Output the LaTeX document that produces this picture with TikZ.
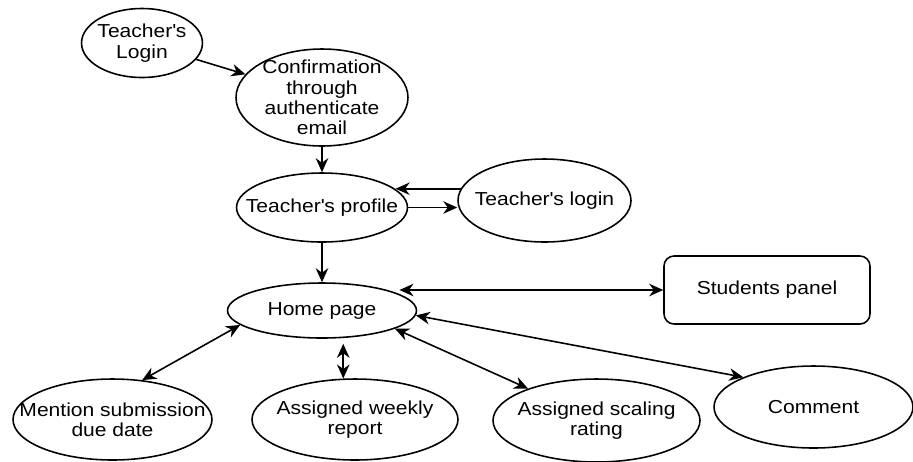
\documentclass[tikz,border=0pt]{standalone}
\usepackage{fontspec}
\setmainfont{Liberation Sans}[FakeStretch=1.12]
\usetikzlibrary{shapes.geometric,arrows.meta}
\tikzset{
  oval/.style={ellipse,draw,inner sep=0pt},
  panel/.style={rectangle,draw,rounded corners=0.2cm,inner sep=0pt},
  every label/.style={align=center,inner sep=0pt},
  >={Stealth[length=2.8mm,width=2.5mm,inset=0.9mm]},
}
\begin{document}
\begin{tikzpicture}[x=0.02cm,y=-0.02cm,line width=0.9pt,font=\fontsize{10.7}{11.6}\selectfont]
\useasboundingbox (0,0) rectangle (913,461);
\node[oval,minimum width=2.42cm,minimum height=1.38cm,label={center:Teacher\textquotesingle s\\Login}] (tlogin) at (142,43) {};
\node[oval,minimum width=3.44cm,minimum height=1.94cm,label={center:Confirmation\\through\\authenticate\\email}] (conf) at (322,97.5) {};
\node[oval,minimum width=3.42cm,minimum height=1.38cm,label={center:Teacher\textquotesingle s profile}] (profile) at (322,207.5) {};
\node[oval,minimum width=3.46cm,minimum height=1.66cm,label={center:Teacher\textquotesingle s login}] (login) at (544.5,200.5) {};
\node[oval,minimum width=3.78cm,minimum height=1.1cm,label={center:Home page}] (home) at (322,310.5) {};
\node[panel,minimum width=4.12cm,minimum height=1.36cm] (students) at (767,290) {Students panel};
\node[oval,minimum width=3.98cm,minimum height=1.62cm,label={center:Mention submission\\due date}] (mention) at (112.5,419.5) {};
\node[oval,minimum width=4.12cm,minimum height=1.62cm,label={center:Assigned weekly\\report}] (weekly) at (355,419.5) {};
\node[oval,minimum width=4.14cm,minimum height=1.66cm,label={center:Assigned scaling\\rating}] (scaling) at (596.5,420.5) {};
\node[oval,minimum width=3.98cm,minimum height=1.64cm,label={center:Comment}] (comment) at (813.5,407) {};
\draw[->] (tlogin) -- (conf);
\draw[->] (conf.south) -- (profile.north);
\draw[->] (login.172) -- (login.172 -| profile.14);
\draw[->] (profile.east) -- (profile.east -| login.west);
\draw[->] (profile.south) -- (home.north);
\draw[<->] (students.west) -- (students.west -| home.12);
\draw[<->] (home.190) -- (mention.53);
\draw[<->] (weekly.106) -- ([yshift=-1mm]weekly.106 |- home.south);
\draw[<->] (home.-14) -- (scaling.155);
\draw[<->] (home.-3) -- (comment.157);
\end{tikzpicture}
\end{document}
